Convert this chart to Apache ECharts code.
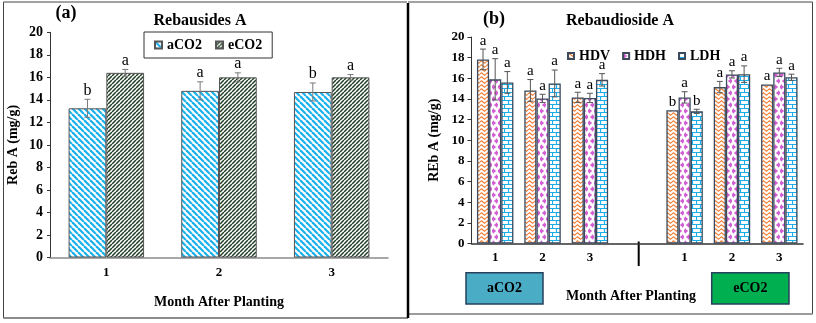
<!DOCTYPE html>
<html>
<head>
<meta charset="utf-8">
<script src="https://cdn.jsdelivr.net/npm/echarts@6/dist/echarts.min.js"></script>
<style>
  html, body { margin: 0; padding: 0; background: #fff; }
  #chart { width: 816px; height: 323px; }
</style>
</head>
<body>
<div id="chart"></div>
<script>
  // (a) Rebausides A by CO2 level
  const monthsA = ['1', '2', '3']
  const aCO2 = [13.25, 14.8, 14.7]
  const eCO2 = [16.4, 16.0, 16.0]
  const aCO2Err = [0.8, 0.8, 0.8]
  const eCO2Err = [0.3, 0.4, 0.25]
  const aCO2Sig = ['b', 'a', 'b']
  const eCO2Sig = ['a', 'a', 'a']

  // (b) Rebaudioside A by treatment: 3 months aCO2, gap, 3 months eCO2
  const monthsB = ['1', '2', '3', '', '1', '2', '3']
  const hdv = [17.83, 14.83, 14.15, '-', 12.9, 15.15, 15.4]
  const hdh = [15.9, 14.05, 14.1, '-', 14.15, 16.38, 16.57]
  const ldh = [15.6, 15.5, 15.85, '-', 12.8, 16.4, 16.1]
  const hdvErr = [1.0, 1.05, 0.5, '-', 0, 0.55, 0]
  const hdhErr = [2.0, 0.4, 0.45, '-', 0.55, 0.35, 0.4]
  const ldhErr = [1.05, 1.3, 0.6, '-', 0.2, 0.8, 0.3]
  const hdvSig = ['a', 'a', 'a', '', 'b', 'a', 'a']
  const hdhSig = ['a', 'a', 'a', '', 'a', 'a', 'a']
  const ldhSig = ['a', 'a', 'a', '', 'b', 'a', 'a']

  const FONT = 'Liberation Serif'

  // small canvas tiles used as fill patterns
  function tile(w, h, draw) {
    const c = document.createElement('canvas')
    c.width = w
    c.height = h
    const ctx = c.getContext('2d')
    ctx.fillStyle = '#fff'
    ctx.fillRect(0, 0, w, h)
    draw(ctx)
    return { image: c, repeat: 'repeat' }
  }

  const blueStripes = tile(6, 6, ctx => {
    ctx.strokeStyle = '#19b0ec'
    ctx.lineWidth = 2.2
    for (let k = -1; k <= 1; k++) {
      ctx.beginPath(); ctx.moveTo(k * 6, 0); ctx.lineTo(k * 6 + 6, 6); ctx.stroke()
    }
  })
  const greenStripes = tile(4, 4, ctx => {
    ctx.strokeStyle = '#1f3d22'
    ctx.lineWidth = 1.5
    for (let k = -1; k <= 1; k++) {
      ctx.beginPath(); ctx.moveTo(k * 4 + 4, 0); ctx.lineTo(k * 4, 4); ctx.stroke()
    }
  })
  const orangeWaves = tile(6, 4, ctx => {
    ctx.strokeStyle = '#f2823c'
    ctx.lineWidth = 1.2
    ctx.beginPath()
    ctx.moveTo(0, 2); ctx.lineTo(1.5, 0.8); ctx.lineTo(3, 2); ctx.lineTo(4.5, 3.2); ctx.lineTo(6, 2)
    ctx.stroke()
  })
  const pinkDots = tile(6, 12, ctx => {
    ctx.fillStyle = '#d45fd4'
    ;[[1.5, 3], [4.5, 9]].forEach(([x, y]) => {
      ctx.beginPath(); ctx.arc(x, y, 1.7, 0, Math.PI * 2); ctx.fill()
      ctx.fillRect(x - 2.4, y - 0.6, 4.8, 1.2)
      ctx.fillRect(x - 0.6, y - 2.4, 1.2, 4.8)
    })
  })
  const blueBricks = tile(8, 8, ctx => {
    ctx.strokeStyle = '#1caee8'
    ctx.lineWidth = 1.2
    ctx.beginPath()
    ctx.moveTo(0, 0.5); ctx.lineTo(8, 0.5)
    ctx.moveTo(0, 4.5); ctx.lineTo(8, 4.5)
    ctx.moveTo(0.5, 0); ctx.lineTo(0.5, 4.5)
    ctx.moveTo(4.5, 4.5); ctx.lineTo(4.5, 8)
    ctx.stroke()
  })

  // error bars + significance letters drawn through the axis scales
  function errSeries(grid, values, errs, sigs, idx, n, gap, color, fontSize) {
    return {
      type: 'custom',
      xAxisIndex: grid,
      yAxisIndex: grid,
      z: 5,
      silent: true,
      data: values.map((v, i) => [i, v === '-' ? NaN : v, errs[i] === '-' ? 0 : errs[i]]),
      renderItem(params, api) {
        const i = api.value(0)
        const v = api.value(1)
        const e = api.value(2)
        if (isNaN(v)) return null
        const band = api.size([1, 0])[0]
        const bw = band * (1 - gap) / n
        const x = api.coord([i, v])[0] + (idx - (n - 1) / 2) * bw
        const yTop = api.coord([i, v + e])[1]
        const yBot = api.coord([i, v - e])[1]
        const kids = []
        if (e > 0) {
          const st = { stroke: color, lineWidth: 1 }
          kids.push({ type: 'line', shape: { x1: x, y1: yTop, x2: x, y2: yBot }, style: st })
          kids.push({ type: 'line', shape: { x1: x - 3, y1: yTop, x2: x + 3, y2: yTop }, style: st })
          kids.push({ type: 'line', shape: { x1: x - 3, y1: yBot, x2: x + 3, y2: yBot }, style: st })
        }
        kids.push({
          type: 'text', x: x, y: yTop - 1,
          style: { text: sigs[i], fill: '#000', font: fontSize + 'px "' + FONT + '"', align: 'center', verticalAlign: 'bottom' }
        })
        return { type: 'group', children: kids }
      }
    }
  }

  const bold = size => ({ fontFamily: FONT, fontWeight: 'bold', fontSize: size, color: '#000' })
  const txt = (x, y, text, size, extra) => ({
    type: 'text', x: x, y: y, z: 10,
    style: Object.assign({ text: text, fill: '#000', font: 'bold ' + size + 'px "' + FONT + '"', align: 'center', verticalAlign: 'middle' }, extra || {})
  })

  const chart = echarts.init(document.getElementById('chart'), null, { renderer: 'canvas' })

  const option = {
    animation: false,
    backgroundColor: '#fff',
    grid: [
      { left: 50, top: 32.3, width: 338, height: 225.2 },
      { left: 471.5, top: 37, width: 331.5, height: 206.5 }
    ],
    legend: [
      {
        data: ['aCO2', 'eCO2'],
        left: 144, top: 32,
        padding: [6, 10],
        borderColor: '#333', borderWidth: 1,
        itemWidth: 7, itemHeight: 7, itemGap: 13,
        icon: 'rect',
        textStyle: bold(14)
      },
      {
        data: ['HDV', 'HDH', 'LDH'],
        left: 562, top: 44,
        itemWidth: 6, itemHeight: 6, itemGap: 12,
        icon: 'rect',
        textStyle: bold(14)
      }
    ],
    xAxis: [
      {
        type: 'category', gridIndex: 0, data: monthsA,
        axisLine: { lineStyle: { color: '#8a8a8a', width: 1.5 } },
        axisTick: { show: false },
        axisLabel: Object.assign(bold(13), { margin: 9 }),
        name: 'Month After Planting', nameLocation: 'middle', nameGap: 38,
        nameTextStyle: bold(14)
      },
      {
        type: 'category', gridIndex: 1, data: monthsB,
        axisLine: { lineStyle: { color: '#333', width: 1.5 } },
        axisTick: { show: false },
        axisLabel: Object.assign(bold(13), { margin: 8, interval: 0 })
      }
    ],
    yAxis: [
      {
        type: 'value', gridIndex: 0, min: 0, max: 20, interval: 2,
        axisLine: { show: true, lineStyle: { color: '#333' } },
        axisTick: { show: true, length: 3, lineStyle: { color: '#333' } },
        splitLine: { show: false },
        axisLabel: Object.assign(bold(14), { margin: 7 }),
        name: 'Reb A (mg/g)', nameLocation: 'middle', nameGap: 30,
        nameTextStyle: bold(14)
      },
      {
        type: 'value', gridIndex: 1, min: 0, max: 20, interval: 2,
        axisLine: { show: true, lineStyle: { color: '#333' } },
        axisTick: { show: true, length: 4, lineStyle: { color: '#333' } },
        splitLine: { show: false },
        axisLabel: Object.assign(bold(13), { margin: 7 }),
        name: 'REb A (mg/g)', nameLocation: 'middle', nameGap: 30,
        nameTextStyle: bold(14)
      }
    ],
    series: [
      {
        name: 'aCO2', type: 'bar', xAxisIndex: 0, yAxisIndex: 0, data: aCO2,
        barGap: 0, barCategoryGap: '33%',
        itemStyle: { color: blueStripes, borderColor: '#555', borderWidth: 1 }
      },
      {
        name: 'eCO2', type: 'bar', xAxisIndex: 0, yAxisIndex: 0, data: eCO2,
        barGap: 0, barCategoryGap: '33%',
        itemStyle: { color: greenStripes, borderColor: '#555', borderWidth: 1 }
      },
      errSeries(0, aCO2, aCO2Err, aCO2Sig, 0, 2, 0.33, '#7a7a7a', 16),
      errSeries(0, eCO2, eCO2Err, eCO2Sig, 1, 2, 0.33, '#7a7a7a', 16),
      {
        name: 'HDV', type: 'bar', xAxisIndex: 1, yAxisIndex: 1, data: hdv,
        barGap: 0, barCategoryGap: '23%',
        itemStyle: { color: orangeWaves, borderColor: '#3b4a5c', borderWidth: 1.3 }
      },
      {
        name: 'HDH', type: 'bar', xAxisIndex: 1, yAxisIndex: 1, data: hdh,
        barGap: 0, barCategoryGap: '23%',
        itemStyle: { color: pinkDots, borderColor: '#3b4a5c', borderWidth: 1.3 }
      },
      {
        name: 'LDH', type: 'bar', xAxisIndex: 1, yAxisIndex: 1, data: ldh,
        barGap: 0, barCategoryGap: '23%',
        itemStyle: { color: blueBricks, borderColor: '#3b4a5c', borderWidth: 1.3 }
      },
      errSeries(1, hdv, hdvErr, hdvSig, 0, 3, 0.23, '#555', 15),
      errSeries(1, hdh, hdhErr, hdhSig, 1, 3, 0.23, '#555', 15),
      errSeries(1, ldh, ldhErr, ldhSig, 2, 3, 0.23, '#555', 15)
    ],
    graphic: [
      // panel frames
      { type: 'polyline', shape: { points: [[407, 318], [3.5, 318], [3.5, 2], [407, 2]] }, style: { stroke: '#444', lineWidth: 1, fill: null } },
      { type: 'line', shape: { x1: 3.5, y1: 318, x2: 408, y2: 318 }, style: { stroke: '#8c8c8c', lineWidth: 2 } },
      { type: 'polyline', shape: { points: [[408, 2], [812.5, 2], [812.5, 314], [408, 314]] }, style: { stroke: '#444', lineWidth: 1, fill: null } },
      { type: 'line', shape: { x1: 408, y1: 314, x2: 812.5, y2: 314 }, style: { stroke: '#9a9a9a', lineWidth: 1.5 } },
      { type: 'line', shape: { x1: 408, y1: 3, x2: 408, y2: 318 }, style: { stroke: '#000', lineWidth: 2.5 } },
      // titles
      txt(66, 13, '(a)', 18),
      txt(200, 21, 'Rebausides A', 16),
      txt(494, 19, '(b)', 18),
      txt(620, 20.5, 'Rebaudioside A', 16),
      // separator between aCO2 and eCO2 groups
      { type: 'line', shape: { x1: 638.7, y1: 241.5, x2: 638.7, y2: 266 }, style: { stroke: '#000', lineWidth: 2 } },
      // group boxes
      { type: 'rect', shape: { x: 466, y: 272.7, width: 77, height: 31.3 }, style: { fill: '#4bacc6', stroke: '#26415e', lineWidth: 1.5 } },
      txt(504.5, 288.5, 'aCO2', 14),
      { type: 'rect', shape: { x: 711.7, y: 272.7, width: 77.3, height: 31.3 }, style: { fill: '#00b050', stroke: '#26415e', lineWidth: 1.5 } },
      txt(750.3, 288.5, 'eCO2', 14),
      txt(631, 296, 'Month After Planting', 14)
    ]
  }

  chart.setOption(option)
</script>
</body>
</html>
